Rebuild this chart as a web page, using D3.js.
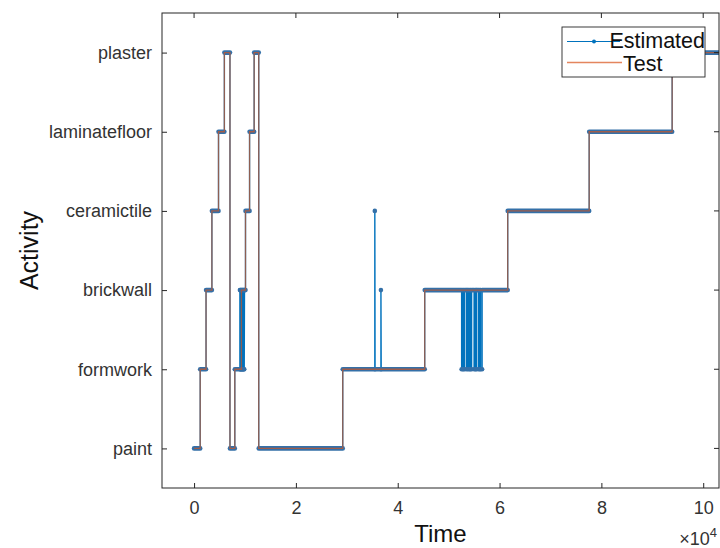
<!DOCTYPE html>
<html><head><meta charset="utf-8">
<script src="https://cdn.jsdelivr.net/npm/d3@7"></script>
<style>body{margin:0;background:#fff} svg{display:block;font-family:"Liberation Sans",Arial,Helvetica,sans-serif}</style>
</head><body><svg id="c" width="720" height="548"></svg>
<script>
// ---- data (time in units of 1e4) ----
const activities = ["paint","formwork","brickwall","ceramictile","laminatefloor","plaster"];
const xTickValues = [0, 2, 4, 6, 8, 10];
// Test: segment i runs from testTimes[i] to testTimes[i+1] with activity testActs[i]
const testTimes = [0, 0.12, 0.235, 0.35, 0.48, 0.595, 0.705, 0.80, 0.93, 1.01, 1.09, 1.18, 1.27, 2.92, 4.53, 6.16, 7.76, 9.39, 10.31];
const testActs = ["paint","formwork","brickwall","ceramictile","laminatefloor","plaster",
                  "paint","formwork","brickwall","ceramictile","laminatefloor","plaster",
                  "paint","formwork","brickwall","ceramictile","laminatefloor","plaster"];
// Estimated: runs of samples [start, end, activity]
const estStart = [0, 0.12, 0.235, 0.35, 0.48, 0.595, 0.705, 0.80,
  0.900, 0.905, 0.910, 0.915, 0.920, 0.925, 0.930, 0.935, 0.940, 0.945, 0.950, 0.955, 0.960, 0.965, 0.970, 0.975, 0.980, 0.985, 0.990, 0.995,
  1.01, 1.09, 1.18, 1.27, 2.92, 3.55, 3.555, 3.67, 3.675, 4.53,
  5.255, 5.275, 5.294, 5.314, 5.353, 5.365, 5.392, 5.412, 5.431, 5.451,
  5.500, 5.520, 5.539, 5.549, 5.588, 5.608, 5.627, 5.657,
  6.16, 7.76, 9.39];
const estEnd = [0.12, 0.235, 0.35, 0.48, 0.595, 0.705, 0.80, 0.90,
  0.900, 0.905, 0.910, 0.915, 0.920, 0.925, 0.930, 0.935, 0.940, 0.945, 0.950, 0.955, 0.960, 0.965, 0.970, 0.975, 0.980, 0.985, 0.990, 1.01,
  1.09, 1.18, 1.27, 2.92, 3.55, 3.55, 3.67, 3.67, 4.53, 5.255,
  5.275, 5.294, 5.314, 5.353, 5.365, 5.392, 5.412, 5.431, 5.451, 5.500,
  5.520, 5.539, 5.549, 5.588, 5.608, 5.627, 5.657, 6.16,
  7.76, 9.39, 10.31];
const estActs = ["paint","formwork","brickwall","ceramictile","laminatefloor","plaster","paint","formwork",
  "brickwall","formwork","brickwall","formwork","brickwall","formwork","brickwall","formwork","brickwall","formwork",
  "brickwall","formwork","brickwall","formwork","brickwall","formwork","brickwall","formwork","brickwall","brickwall",
  "ceramictile","laminatefloor","plaster","paint","formwork","ceramictile","formwork","brickwall","formwork","brickwall",
  "formwork","brickwall","formwork","brickwall","formwork","brickwall","formwork","brickwall","formwork","brickwall",
  "formwork","brickwall","formwork","brickwall","formwork","brickwall","formwork","brickwall",
  "ceramictile","laminatefloor","plaster"];
const seriesNames = ["Estimated", "Test"];

// ---- layout ----
const L = 162, R = 719, T = 13, B = 488;
const svg = d3.select("#c");
const x = d3.scaleLinear().domain([-0.63, 10.31]).range([L, R]);
const yIdx = d3.scaleLinear().domain([0.5, 6.5]).range([B, T]);
const y = a => yIdx(activities.indexOf(a) + 1);
const axisCol = "#262626";
const blue = "#0072BD", orange = "#D95319";

svg.append("defs").append("clipPath").attr("id","clip")
  .append("rect").attr("x", L).attr("y", T).attr("width", R - L).attr("height", B - T);

const plot = svg.append("g").attr("clip-path","url(#clip)");

// Estimated line
const estPts = [];
estStart.forEach((s, i) => { estPts.push([s, estActs[i]]); estPts.push([estEnd[i], estActs[i]]); });
const line = d3.line().x(d => x(d[0])).y(d => y(d[1]));
plot.append("path").attr("d", line(estPts)).attr("fill","none")
  .attr("stroke", blue).attr("stroke-width", 1.4);
// dense markers along runs
plot.append("g").selectAll("line").data(estStart.map((s,i)=>[s, estEnd[i], estActs[i]]))
  .join("line")
  .attr("x1", d => x(d[0])).attr("x2", d => x(d[1]))
  .attr("y1", d => y(d[2])).attr("y2", d => y(d[2]))
  .attr("stroke", "#3470a8").attr("stroke-width", 4.6).attr("stroke-linecap","round");

// Test step line
const testPts = [];
testActs.forEach((a, i) => { testPts.push([testTimes[i], a]); testPts.push([testTimes[i+1], a]); });
plot.append("path").attr("d", line(testPts)).attr("fill","none")
  .attr("stroke", orange).attr("stroke-width", 1.3).attr("stroke-opacity", 0.65);

// ---- axes ----
const xAxis = d3.axisBottom(x).tickValues(xTickValues).tickSize(-5).tickSizeOuter(0).tickPadding(13).tickFormat(d3.format("d"));
const gx = svg.append("g").attr("transform", `translate(0,${B})`).call(xAxis);
const yAxis = d3.axisLeft(yIdx).tickValues(d3.range(1, 7)).tickSize(-5).tickSizeOuter(0).tickPadding(10)
  .tickFormat(d => activities[d - 1]);
const gy = svg.append("g").attr("transform", `translate(${L},0)`).call(yAxis);
[gx, gy].forEach(g => {
  g.select(".domain").remove();
  g.selectAll("line").attr("stroke", axisCol);
  g.selectAll("text").attr("fill", "#333").attr("font-size", 18)
    .attr("font-family", '"Liberation Sans",Arial,sans-serif');
});
// top & right ticks
svg.append("g").selectAll("line").data(xTickValues).join("line")
  .attr("x1", d => x(d)).attr("x2", d => x(d)).attr("y1", T).attr("y2", T + 5).attr("stroke", axisCol);
svg.append("g").selectAll("line").data(d3.range(1, 7)).join("line")
  .attr("x1", R).attr("x2", R - 5).attr("y1", d => yIdx(d)).attr("y2", d => yIdx(d)).attr("stroke", axisCol);
// frame
svg.append("rect").attr("x", L).attr("y", T).attr("width", R - L).attr("height", B - T)
  .attr("fill","none").attr("stroke", axisCol).attr("stroke-width", 1);

// axis labels
svg.append("text").attr("x", (L + R) / 2).attr("y", 542).attr("text-anchor","middle")
  .attr("font-size", 24).attr("fill", "#111").text("Time");
svg.append("text").attr("transform", `translate(38,${(T + B) / 2}) rotate(-90)`).attr("text-anchor","middle")
  .attr("font-size", 25).attr("fill", "#111").text("Activity");
// exponent
const ex = svg.append("text").attr("x", 717).attr("y", 545).attr("text-anchor","end")
  .attr("font-size", 18).attr("fill", "#333");
ex.append("tspan").text("×10");
ex.append("tspan").attr("dy", -8).attr("font-size", 13).text("4");

// legend
const lg = svg.append("g");
lg.append("rect").attr("x", 562).attr("y", 27).attr("width", 143).attr("height", 50)
  .attr("fill", "#fff").attr("stroke", axisCol).attr("stroke-width", 0.9);
lg.append("line").attr("x1", 567).attr("x2", 620).attr("y1", 41.5).attr("y2", 41.5).attr("stroke", blue).attr("stroke-width", 1.2);
lg.append("circle").attr("cx", 594).attr("cy", 41.5).attr("r", 2).attr("fill", blue);
lg.append("line").attr("x1", 567).attr("x2", 622).attr("y1", 62.5).attr("y2", 62.5).attr("stroke", orange).attr("stroke-width", 1.3).attr("stroke-opacity", 0.7);
lg.append("text").attr("x", 705).attr("y", 48).attr("text-anchor","end").attr("font-size", 21.5).attr("fill","#111").text(seriesNames[0]);
lg.append("text").attr("x", 623).attr("y", 71).attr("font-size", 21.5).attr("fill","#111").text(seriesNames[1]);
</script></body></html>
